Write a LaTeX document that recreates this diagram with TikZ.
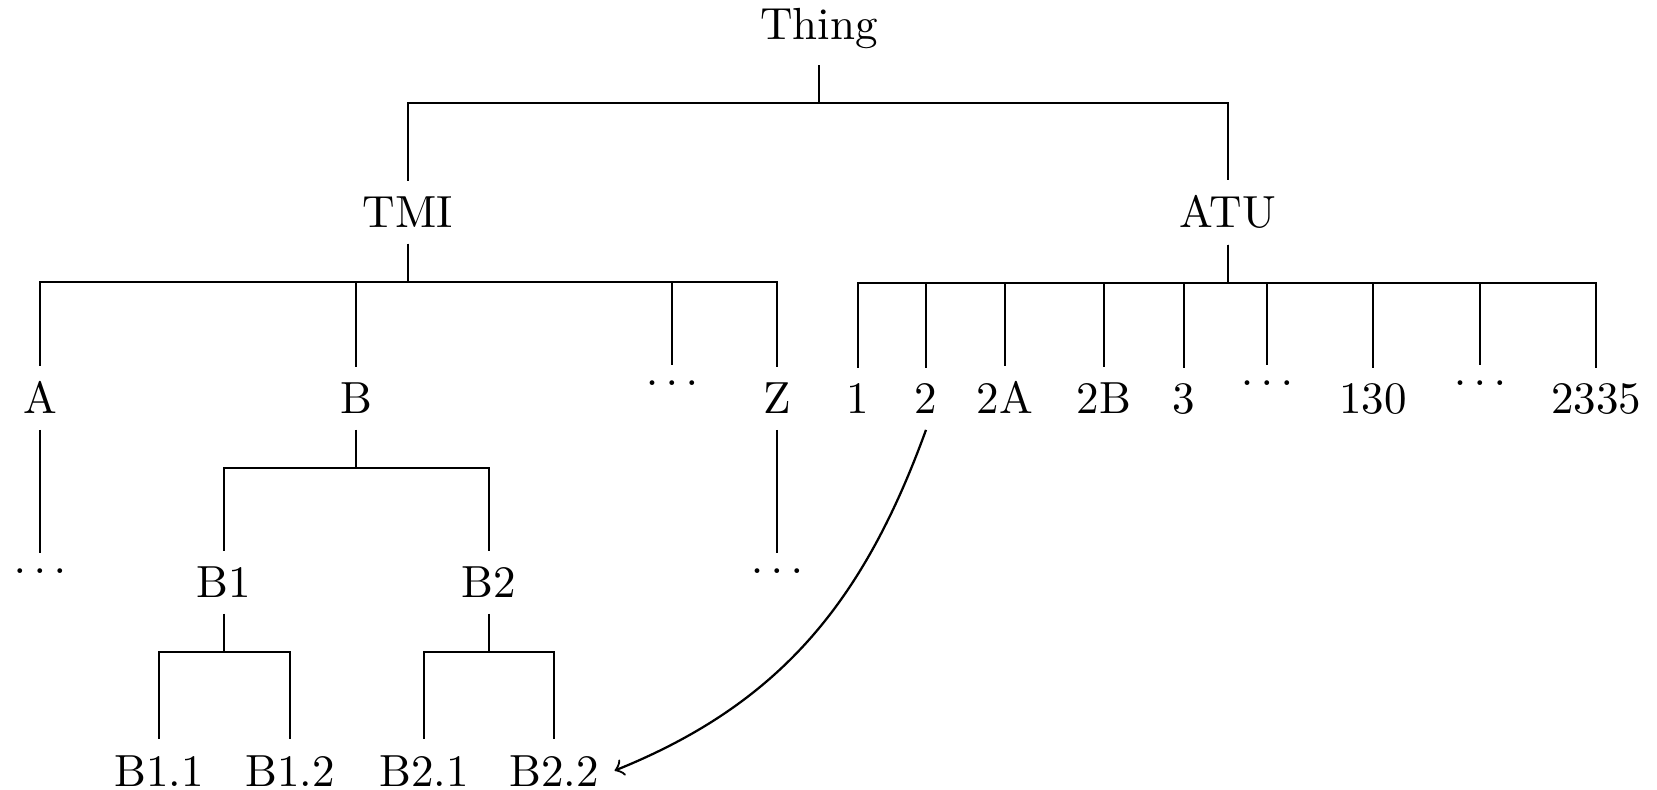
\documentclass[tikz,border=0pt]{standalone}
\begin{document}
\begin{tikzpicture}[x=0.2222pt, y=-0.2222pt,
  lbl/.style={inner sep=3.33pt, anchor=base},
  gap/.style={inner sep=3.33pt, anchor=north},
  branch/.style={line width=0.5pt},
  link/.style={->, line width=0.5pt}]
\useasboundingbox (0,0) rectangle (1657,790);

% root and first level
\node[lbl] (thing) at (819,40) {Thing};
\node[lbl] (tmi) at (408,228) {TMI};
\node[lbl] (atu) at (1228,228) {ATU};

% TMI children
\node[lbl] (a) at (40,414) {A};
\node[lbl] (b) at (356,414) {B};
\node[gap] (tdots) at (672,365) {$\ldots$};
\node[lbl] (z) at (777,414) {Z};

% ATU children
\node[lbl] (n1) at (858,414) {1};
\node[lbl] (n2) at (926,414) {2};
\node[lbl] (n2a) at (1005,414) {2A};
\node[lbl] (n2b) at (1104,414) {2B};
\node[lbl] (n3) at (1184,414) {3};
\node[gap] (adotsa) at (1267,365) {$\ldots$};
\node[lbl] (n130) at (1373,414) {130};
\node[gap] (adotsb) at (1480,365) {$\ldots$};
\node[lbl] (n2335) at (1596,414) {2335};

% third level
\node[gap] (adots) at (40,553) {$\ldots$};
\node[lbl] (b1) at (224,598) {B1};
\node[lbl] (b2) at (489,598) {B2};
\node[gap] (zdots) at (777,553) {$\ldots$};

% fourth level
\node[lbl] (b11) at (159,786) {B1.1};
\node[lbl] (b12) at (290,786) {B1.2};
\node[lbl] (b21) at (424,786) {B2.1};
\node[lbl] (b22) at (554,786) {B2.2};

% forked edges
\foreach \p/\c in {thing/tmi, thing/atu,
    tmi/a, tmi/b, tmi/tdots, tmi/z,
    atu/n1, atu/n2, atu/n2a, atu/n2b, atu/n3, atu/adotsa, atu/n130, atu/adotsb, atu/n2335,
    a/adots, b/b1, b/b2, z/zdots,
    b1/b11, b1/b12, b2/b21, b2/b22}
  \draw[branch] (\p.south) -- ++(0,38) -| (\c.north);

% cross link
\draw[link] (n2.south) to[out=250, in=22] (b22.east);
\end{tikzpicture}
\end{document}
